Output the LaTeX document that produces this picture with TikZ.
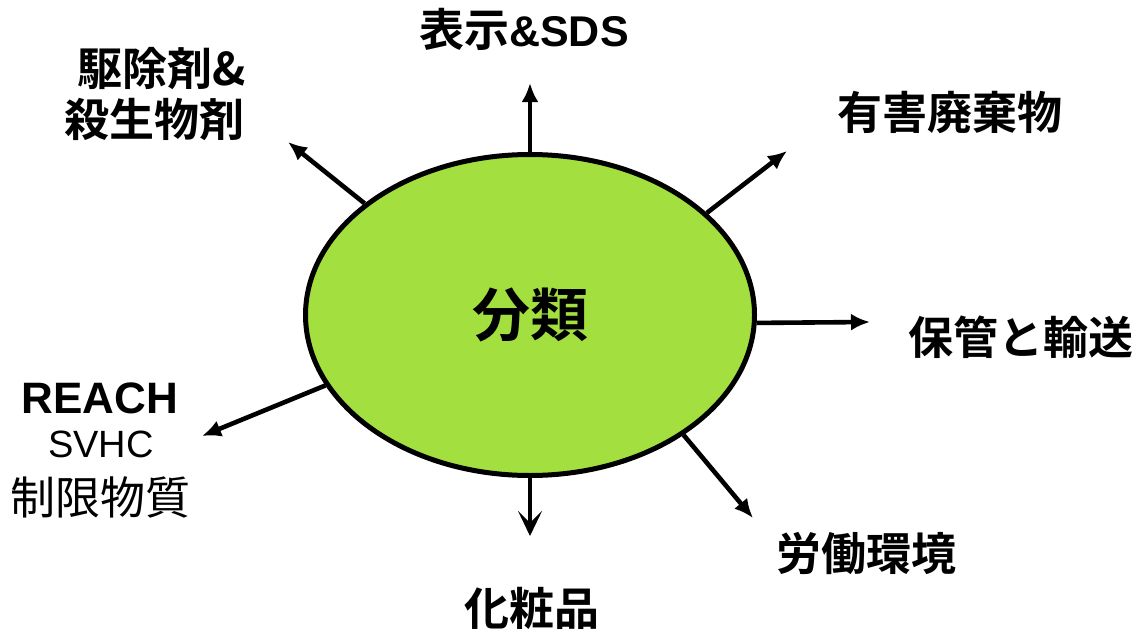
\documentclass[tikz,border=0pt]{standalone}
\usepackage{fontspec}
\setmainfont{Liberation Sans}
\newfontfamily\cjk{Noto Sans CJK JP}[BoldFont={Noto Sans CJK JP Bold}]
\usetikzlibrary{shapes.geometric,arrows.meta}
\definecolor{leaf}{RGB}{163,224,63}
\begin{document}
\begin{tikzpicture}[x=1pt,y=-1pt,
  jlbl/.style={inner sep=0pt, font=\cjk\bfseries\fontsize{45}{54}\selectfont},
  jreg/.style={inner sep=0pt, font=\cjk\fontsize{45}{54}\selectfont},
  conn/.style={line width=4.6pt, -{Latex[length=19pt,width=17pt]}},
  connv/.style={line width=4.6pt, -{Stealth[length=25pt,width=24pt,inset=12pt]}},
  hub/.style={ellipse, draw, line width=5pt, fill=leaf, minimum width=449pt,
    minimum height=321pt, inner sep=0pt, font=\cjk\bfseries\fontsize{58}{60}\selectfont}]
\useasboundingbox (0,0) rectangle (1132,629);
\node[hub] (c) at (530,315) {分類};

\node[inner sep=0pt, anchor=base] (n1) at (524,46)
  {{\cjk\bfseries\fontsize{45}{54}\selectfont 表示}{\bfseries\fontsize{43}{50}\selectfont\&SDS}};
\node[jlbl, anchor=base east] (n2a) at (246,85) {駆除剤\&};
\node[jlbl, anchor=base east] (n2b) at (245,136) {殺生物剤};
\node[jlbl] (n3) at (950,113) {有害廃棄物};
\node[jlbl] (n4) at (1021,337) {保管と輸送};
\node[jlbl] (n5) at (866,554) {労働環境};
\node[jlbl] (n6) at (532,608) {化粧品};
\node[inner sep=0pt, anchor=base, font=\bfseries\fontsize{44}{50}\selectfont] (n7a) at (100,413) {REACH};
\node[inner sep=0pt, anchor=base, font=\fontsize{38}{46}\selectfont] (n7b) at (101,457) {SVHC};
\node[jreg] (n7c) at (100,497) {制限物質};

\coordinate (tu) at (530,83);
\coordinate (tul) at (288,142);
\coordinate (tur) at (787,151);
\coordinate (tr) at (870,322);
\coordinate (tlr) at (753,518);
\coordinate (td) at (530,536);
\coordinate (tll) at (202,436);

\draw[conn] (c.90) -- (tu);
\draw[conn] (c.146.8) -- (tul);
\draw[conn] (c.30.5) -- (tur);
\draw[conn] (c.-2) -- (tr);
\draw[conn] (c.-38.8) -- (tlr);
\draw[connv] (c.-90) -- (td);
\draw[conn] (c.-161.8) -- (tll);
\end{tikzpicture}
\end{document}
